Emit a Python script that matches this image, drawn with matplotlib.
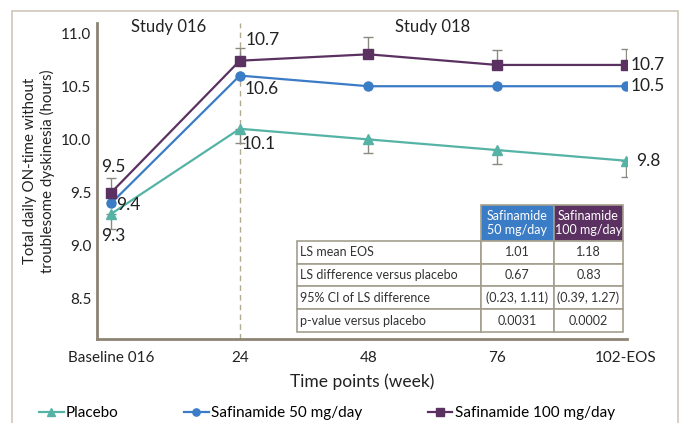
import matplotlib
matplotlib.use("Agg")
import matplotlib.pyplot as plt
from matplotlib.patches import Rectangle
from matplotlib.table import Table

plt.rcParams['font.family'] = ['Lato', 'DejaVu Sans']

time_points = ["Baseline 016", "24", "48", "76", "102-EOS"]
placebo = [9.3, 10.1, 10.0, 9.9, 9.8]
safi_50 = [9.4, 10.6, 10.5, 10.5, 10.5]
safi_100 = [9.5, 10.74, 10.8, 10.7, 10.7]
# one-sided error bars: below for placebo, above for 100 mg
placebo_err = [0.14, 0.13, 0.13, 0.13, 0.15]
safi_100_err = [0.14, 0.12, 0.16, 0.14, 0.15]

table_cols = ["Safinamide\n50 mg/day", "Safinamide\n100 mg/day"]
table_rows = ["LS mean EOS", "LS difference versus placebo",
              "95% CI of LS difference", "p-value versus placebo"]
table_vals = [["1.01", "1.18"],
              ["0.67", "0.83"],
              ["(0.23, 1.11)", "(0.39, 1.27)"],
              ["0.0031", "0.0002"]]

c_placebo = "#55b3a5"
c_50 = "#3b7cc6"
c_100 = "#5b3161"
c_err = "#8c8a80"
c_spine = "#8c8474"
c_grid = "#a39e8e"

fig = plt.figure(figsize=(6.84, 4.23), dpi=100)
ax = fig.add_axes([0.1418, 0.1986, 0.7749, 0.7477])

x = list(range(len(time_points)))

ax.errorbar(x, placebo, yerr=[placebo_err, [0] * 5], fmt="none", ecolor=c_err,
            elinewidth=1, capsize=3.6, capthick=1, zorder=2)
ax.errorbar(x, safi_100, yerr=[[0] * 5, safi_100_err], fmt="none", ecolor=c_err,
            elinewidth=1, capsize=3.6, capthick=1, zorder=2)

ax.plot(x, placebo, color=c_placebo, lw=1.6, marker="^", ms=7, zorder=3, label="Placebo")
ax.plot(x, safi_50, color=c_50, lw=1.6, marker="o", ms=6.5, zorder=3, label="Safinamide 50 mg/day")
ax.plot(x, safi_100, color=c_100, lw=1.6, marker="s", ms=6.5, zorder=4, label="Safinamide 100 mg/day")

ax.axvline(1, color="#b3aa92", lw=1, ls=(0, (4, 3)), zorder=1)

ax.set_xlim(-0.11, 4.01)
ax.set_ylim(8.124, 11.097)
ax.set_xticks(x)
ax.set_xticklabels(time_points)
ax.set_yticks([8.5, 9.0, 9.5, 10.0, 10.5, 11.0])
ax.set_yticklabels(["8.5", "9.0", "9.5", "10.0", "10.5", "11.0"])
ax.tick_params(axis="both", length=0, labelsize=11, colors="#222222")
ax.tick_params(axis="x", pad=9)
ax.tick_params(axis="y", pad=4)
for side in ["top", "right"]:
    ax.spines[side].set_visible(False)
for side in ["left", "bottom"]:
    ax.spines[side].set_color(c_spine)
    ax.spines[side].set_linewidth(2)

ax.set_xlabel("Time points (week)", fontsize=12.5, color="#222222", labelpad=6)
fig.text(0.057, 0.596, "Total daily ON-time without\ntroublesome dyskinesia (hours)",
         rotation=90, ha="center", va="center", fontsize=10.8, color="#222222",
         linespacing=1.25)

ax.text(0.45, 10.98, "Study 016", ha="center", va="bottom", fontsize=12, color="#222222")
ax.text(2.5, 10.98, "Study 018", ha="center", va="bottom", fontsize=12, color="#222222")

# value labels
lbl = dict(fontsize=12.5, color="#222222", textcoords="offset points")
ax.annotate(f"{safi_100[0]:.1f}", (0, safi_100[0]), xytext=(1.4, 18.5), ha="center", va="center", **lbl)
ax.annotate(f"{safi_50[0]:.1f}", (0, safi_50[0]), xytext=(3.6, -1.4), ha="left", va="center", **lbl)
ax.annotate(f"{placebo[0]:.1f}", (0, placebo[0]), xytext=(1.4, -15.8), ha="center", va="center", **lbl)
ax.annotate(f"{safi_100[1]:.1f}", (1, safi_100[1]), xytext=(4, 15), ha="left", va="center", **lbl)
ax.annotate(f"{safi_50[1]:.1f}", (1, safi_50[1]), xytext=(3.6, -10), ha="left", va="center", **lbl)
ax.annotate(f"{placebo[1]:.1f}", (1, placebo[1]), xytext=(1.4, -10.8), ha="left", va="center", **lbl)
ax.annotate(f"{safi_100[4]:.1f}", (4, safi_100[4]), xytext=(3.6, 0), ha="left", va="center", **lbl)
ax.annotate(f"{safi_50[4]:.1f}", (4, safi_50[4]), xytext=(3.6, 0), ha="left", va="center", **lbl)
ax.annotate(f"{placebo[4]:.1f}", (4, placebo[4]), xytext=(7.2, 0), ha="left", va="center", **lbl)

# results table in the lower right of the plot
tbl = Table(ax, bbox=[0.377, 0.022, 0.6155, 0.4017])
col_w = [184, 73, 69]
head_h, row_h = 36, 23
for j, name in enumerate(table_cols):
    tbl.add_cell(0, j + 1, width=col_w[j + 1], height=head_h, text=name, loc="center",
                 facecolor=[c_50, c_100][j], edgecolor=c_grid)
tbl.add_cell(0, 0, width=col_w[0], height=head_h, text="", facecolor="none", edgecolor="none")
for i, rname in enumerate(table_rows):
    tbl.add_cell(i + 1, 0, width=col_w[0], height=row_h, text=rname, loc="left",
                 facecolor="white", edgecolor=c_grid)
    for j in range(2):
        tbl.add_cell(i + 1, j + 1, width=col_w[j + 1], height=row_h, text=table_vals[i][j],
                     loc="center", facecolor="white", edgecolor=c_grid)
tbl.auto_set_font_size(False)
tbl.set_fontsize(9)
for (r, c), cell in tbl.get_celld().items():
    cell.set_linewidth(1.2)
    cell.PAD = 0.02
    cell.get_text().set_linespacing(1.15)
    cell.get_text().set_color("white" if r == 0 else "#333333")
ax.add_table(tbl)

handles, labels = ax.get_legend_handles_labels()
fig.legend(handles, labels, loc="center", bbox_to_anchor=(0.478, 0.024), ncol=3,
           frameon=False, fontsize=11, handlelength=1.6, handletextpad=0.15,
           columnspacing=4.3, markerscale=0.8)

# light frame around the whole figure, open at the bottom
fig.patches.append(Rectangle((12 / 684, -0.2), 666 / 684, 1.2 - 11 / 423,
                             transform=fig.transFigure, fill=False,
                             edgecolor="#cdc7b8", lw=1.2))

fig.savefig("out.png", dpi=100)
